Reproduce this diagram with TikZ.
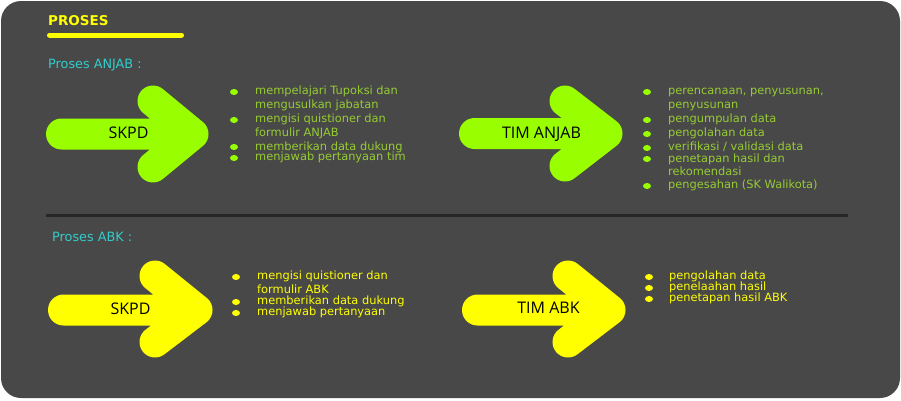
\documentclass[tikz,border=0pt]{standalone}
\usepackage{fontspec}
\setmainfont{DejaVu Sans}
\newfontfamily\labelfont{Open Sans}
\usetikzlibrary{shapes.geometric}
\definecolor{panelgray}{RGB}{72,72,72}
\definecolor{limegreen}{RGB}{153,255,0}
\definecolor{leafgreen}{RGB}{150,204,51}
\definecolor{brightyellow}{RGB}{255,255,0}
\definecolor{headcyan}{RGB}{51,204,204}
\definecolor{rulegray}{RGB}{38,38,38}

\begin{document}
\begin{tikzpicture}[x=1pt, y=-1pt,
  bigarrow/.style={line width=31pt, line cap=round, line join=round},
  arrowtext/.style={anchor=base, inner sep=0pt, font=\labelfont\fontsize{16}{16}\selectfont, text=black},
  item/.style={anchor=base west, inner sep=0pt, font=\fontsize{11.4}{12}\selectfont},
  bulletdot/.style={ellipse, minimum width=8pt, minimum height=6pt, inner sep=0pt},
  heading/.style={anchor=base west, inner sep=0pt, text=headcyan, font=\fontsize{12.8}{14}\selectfont}]
\useasboundingbox (0,0) rectangle (901,400);
\fill[white] (0,0) rectangle (901,400);
\fill[panelgray, rounded corners=20pt] (1,1) rectangle (900,398);

% title
\node (title) [anchor=base west, inner sep=0pt, text=brightyellow, font=\bfseries\fontsize{13.5}{14}\selectfont] at (48,25) {PROSES};
\draw[brightyellow, line width=5pt, line cap=round] (49.5,35) -- (181.5,35);

% ANJAB
\node (anjab) [heading] at (48,68) {Proses ANJAB :};

\draw[bigarrow, limegreen] (61.5,134) -- (193,134) (153,101) -- (193,134) -- (153,167);
\node (skpdA) [arrowtext] at (128.5,138.3) {SKPD};

\node (pa1) [bulletdot, fill=limegreen] at (234,92) {};
\node (pa2) [bulletdot, fill=limegreen] at (234,120) {};
\node (pa3) [bulletdot, fill=limegreen] at (234,147) {};
\node (pa4) [bulletdot, fill=limegreen] at (234,158) {};
\node (a1) [item, text=leafgreen] at (255,94) {mempelajari Tupoksi dan};
\node (a2) [item, text=leafgreen] at (255,108.5) {mengusulkan jabatan};
\node (a3) [item, text=leafgreen] at (255,122.5) {mengisi quistioner dan};
\node (a4) [item, text=leafgreen] at (255,136.5) {formulir ANJAB};
\node (a5) [item, text=leafgreen] at (255,150.5) {memberikan data dukung};
\node (a6) [item, text=leafgreen] at (255,160.5) {menjawab pertanyaan tim};

\draw[bigarrow, limegreen] (474.5,133.5) -- (607,133.5) (565,101) -- (607,133.5) -- (565,166);
\node (timA) [arrowtext] at (541.5,138.3) {TIM ANJAB};

\node (pb1) [bulletdot, fill=limegreen] at (647,92) {};
\node (pb2) [bulletdot, fill=limegreen] at (647,120) {};
\node (pb3) [bulletdot, fill=limegreen] at (647,134) {};
\node (pb4) [bulletdot, fill=limegreen] at (647,148) {};
\node (pb5) [bulletdot, fill=limegreen] at (647,159) {};
\node (pb6) [bulletdot, fill=limegreen] at (647,186) {};
\node (b1) [item, text=leafgreen] at (668,94.5) {perencanaan, penyusunan,};
\node (b2) [item, text=leafgreen] at (668,108.5) {penyusunan};
\node (b3) [item, text=leafgreen] at (668,122.5) {pengumpulan data};
\node (b4) [item, text=leafgreen] at (668,136.5) {pengolahan data};
\node (b5) [item, text=leafgreen] at (668,150.5) {verifikasi / validasi data};
\node (b6) [item, text=leafgreen] at (668,162.5) {penetapan hasil dan};
\node (b7) [item, text=leafgreen] at (668,175.5) {rekomendasi};
\node (b8) [item, text=leafgreen] at (668,188.5) {pengesahan (SK Walikota)};

\draw[rulegray, line width=3pt] (46,215) -- (848,215);

% ABK
\node (abk) [heading] at (52,241) {Proses ABK :};

\draw[bigarrow, brightyellow] (63.5,310) -- (197,310) (155,276) -- (197,310) -- (155,342);
\node (skpdB) [arrowtext] at (130.5,314) {SKPD};

\node (pc1) [bulletdot, fill=brightyellow] at (236,277) {};
\node (pc2) [bulletdot, fill=brightyellow] at (236,302) {};
\node (pc3) [bulletdot, fill=brightyellow] at (236,313) {};
\node (c1) [item, text=brightyellow] at (257,279.5) {mengisi quistioner dan};
\node (c2) [item, text=brightyellow] at (257,293.5) {formulir ABK};
\node (c3) [item, text=brightyellow] at (257,304.5) {memberikan data dukung};
\node (c4) [item, text=brightyellow] at (257,315.5) {menjawab pertanyaan};

\draw[bigarrow, brightyellow] (477.5,310) -- (610,310) (568,276) -- (610,310) -- (568,342);
\node (timB) [arrowtext] at (548.5,313.5) {TIM ABK};

\node (pd1) [bulletdot, fill=brightyellow] at (649,277) {};
\node (pd2) [bulletdot, fill=brightyellow] at (649,288) {};
\node (pd3) [bulletdot, fill=brightyellow] at (649,299) {};
\node (d1) [item, text=brightyellow] at (669,279.5) {pengolahan data};
\node (d2) [item, text=brightyellow] at (669,290.5) {penelaahan hasil};
\node (d3) [item, text=brightyellow] at (669,301.5) {penetapan hasil ABK};
\end{tikzpicture}
\end{document}
